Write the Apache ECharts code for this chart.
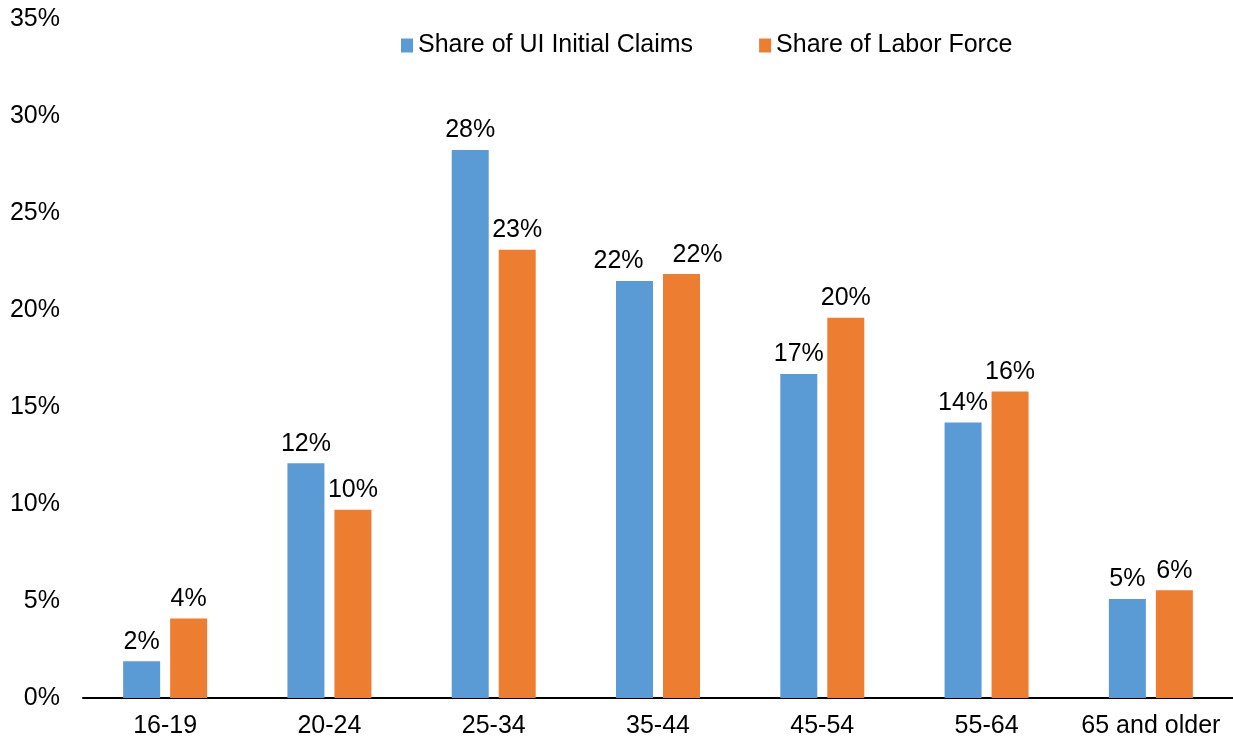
<!DOCTYPE html>
<html>
<head>
<meta charset="utf-8">
<script src="https://cdn.jsdelivr.net/npm/echarts@6/dist/echarts.min.js"></script>
<style>
html,body{margin:0;padding:0;background:#fff;}
#chart{width:1233px;height:742px;}
</style>
</head>
<body>
<div id="chart"></div>
<script>
// age groups and shares (percent)
var ageGroups = ['16-19', '20-24', '25-34', '35-44', '45-54', '55-64', '65 and older'];
var claimsShare = [1.9, 12.1, 28.25, 21.5, 16.7, 14.2, 5.1];
var laborShare = [4.1, 9.7, 23.1, 21.85, 19.6, 15.8, 5.55];
var yTicks = [0, 5, 10, 15, 20, 25, 30, 35];

var fontName = 'Liberation Sans, Arial, sans-serif';
var fs = 25;
var chart = echarts.init(document.getElementById('chart'));

function pctLabel(p) {
    return Math.round(p.value) + '%';
}

// labels of 35-44 pushed apart like in the original
function withNudge(vals, dx) {
    return vals.map(function (v, i) {
        if (i == 3) return {value: v, label: {offset: [dx, 0]}};
        return v;
    });
}

var option = {
    animation: false,
    textStyle: {fontFamily: fontName},
    legend: {
        top: 28,
        left: 396,
        itemGap: 66,
        itemWidth: 12,
        itemHeight: 14,
        icon: 'rect',
        textStyle: {fontSize: fs, color: '#000', fontFamily: fontName},
        data: ['Share of UI Initial Claims', 'Share of Labor Force']
    },
    grid: {left: 83, right: 0, top: 19, bottom: 44},
    xAxis: {
        type: 'category',
        data: ageGroups,
        axisLine: {lineStyle: {color: '#000', width: 2}},
        axisTick: {show: false},
        axisLabel: {interval: 0, fontSize: fs, color: '#000', margin: 16, fontFamily: fontName}
    },
    yAxis: {
        type: 'value',
        min: yTicks[0],
        max: yTicks[yTicks.length - 1],
        interval: 5,
        axisLine: {show: false},
        axisTick: {show: false},
        splitLine: {show: false},
        axisLabel: {fontSize: fs, color: '#000', margin: 23, fontFamily: fontName,
            formatter: function (v) { return v + '%'; }}
    },
    series: [
        {
            name: 'Share of UI Initial Claims',
            type: 'bar',
            data: withNudge(claimsShare, -16),
            barWidth: 37,
            barGap: '27%',
            itemStyle: {color: '#5B9BD5'},
            label: {show: true, position: 'top', distance: 7, fontSize: fs, color: '#000',
                fontFamily: fontName, formatter: pctLabel}
        },
        {
            name: 'Share of Labor Force',
            type: 'bar',
            data: withNudge(laborShare, 16),
            barWidth: 37,
            itemStyle: {color: '#ED7D31'},
            label: {show: true, position: 'top', distance: 7, fontSize: fs, color: '#000',
                fontFamily: fontName, formatter: pctLabel}
        }
    ]
};
chart.setOption(option);
</script>
</body>
</html>
